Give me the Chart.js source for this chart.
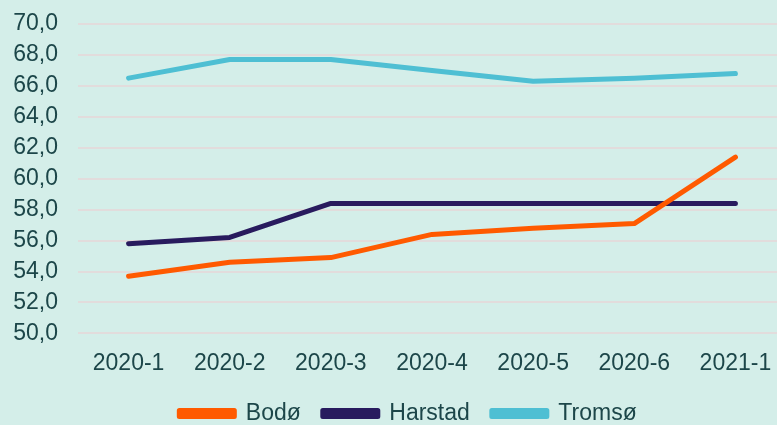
<!DOCTYPE html>
<html>
<head>
<meta charset="utf-8">
<script src="https://cdn.jsdelivr.net/npm/chart.js@4.4.1/dist/chart.umd.min.js"></script>
<style>
  html, body { margin: 0; padding: 0; background: #d4eee9; overflow: hidden; width: 777px; height: 425px; }
  #wrap { width: 790px; height: 425px; }
</style>
</head>
<body>
<div id="wrap"><canvas id="c" width="790" height="425"></canvas></div>
<script>
const categories = ["2020-1", "2020-2", "2020-3", "2020-4", "2020-5", "2020-6", "2021-1"];
const bodo    = [53.7, 54.6, 54.9, 56.4, 56.8, 57.1, 61.4];
const harstad = [55.8, 56.2, 58.4, 58.4, 58.4, 58.4, 58.4];
const tromso  = [66.5, 67.7, 67.7, 67.0, 66.3, 66.5, 66.8];
const seriesNames = ["Bodø", "Harstad", "Tromsø"];

const textColor = "#1c4649";
const font = { family: "'Liberation Sans', Arial, sans-serif", size: 23 };

function ds(label, data, color) {
  return {
    label, data,
    borderColor: color, backgroundColor: color,
    borderWidth: 5, borderCapStyle: "round", borderJoinStyle: "round",
    pointRadius: 0, pointHoverRadius: 0, tension: 0, fill: false
  };
}

const legendShift = {
  id: "legendShift",
  afterLayout(chart) {
    if (chart.legend) { chart.legend.left += 9; chart.legend.right += 9; }
  }
};

new Chart(document.getElementById("c"), {
  type: "line",
  data: {
    labels: categories,
    datasets: [
      ds(seriesNames[0], bodo, "#ff5a00"),
      ds(seriesNames[1], harstad, "#281b5e"),
      ds(seriesNames[2], tromso, "#4ebfd3")
    ]
  },
  plugins: [legendShift],
  options: {
    responsive: false,
    animation: false,
    layout: { padding: { left: 12, right: 4, top: 0, bottom: -10 } },
    plugins: {
      tooltip: { enabled: false },
      legend: {
        position: "bottom",
        labels: {
          color: textColor, font,
          boxWidth: 55, boxHeight: 6, padding: 22
        }
      }
    },
    scales: {
      x: {
        offset: true,
        grid: { display: false, drawTicks: false },
        border: { display: false },
        ticks: { color: textColor, font, padding: 16, maxRotation: 0, autoSkip: false },
        afterFit: s => { s.height -= 13; }
      },
      y: {
        min: 50, max: 70,
        grid: { color: "#e2dcdc", lineWidth: 2, drawTicks: false },
        border: { display: false },
        ticks: {
          color: textColor, font, padding: 20, stepSize: 2, autoSkip: false,
          callback: v => v.toFixed(1).replace(".", ",")
        },
        afterFit: s => { s.width = 66; s.paddingTop = 24; }
      }
    }
  }
});
</script>
</body>
</html>
